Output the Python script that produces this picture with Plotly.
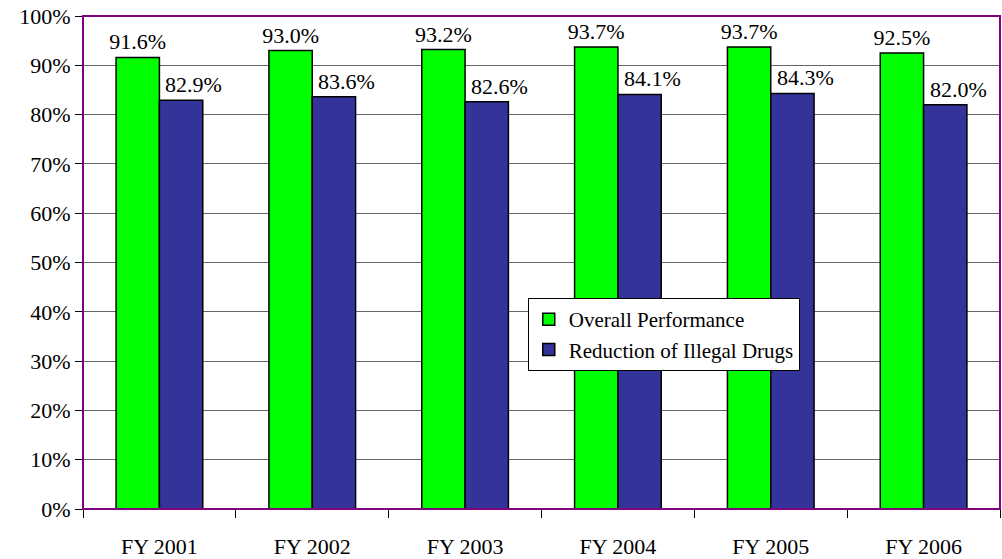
import plotly.graph_objects as go

categories = ["FY 2001", "FY 2002", "FY 2003", "FY 2004", "FY 2005", "FY 2006"]
overall = [91.6, 93.0, 93.2, 93.7, 93.7, 92.5]
reduction = [82.9, 83.6, 82.6, 84.1, 84.3, 82.0]
y_ticks = [0, 10, 20, 30, 40, 50, 60, 70, 80, 90, 100]

FONT = "Liberation Serif, Times New Roman, serif"

fig = go.Figure()
fig.add_trace(go.Bar(
    x=categories, y=overall, name="Overall Performance",
    marker=dict(color="#00FF00", line=dict(color="black", width=1.5)),
    text=[f"{v:.1f}%" for v in overall], textposition="outside",
    constraintext="none",
    textfont=dict(size=22, color="black", family=FONT), cliponaxis=False,
))
fig.add_trace(go.Bar(
    x=categories, y=reduction, name="Reduction of Illegal Drugs",
    marker=dict(color="#333399", line=dict(color="black", width=1.5)),
))
# blue value labels sit left-aligned over the blue bars, as in the reference
for c, v in zip(categories, reduction):
    fig.add_annotation(x=c, y=v, text=f"{v:.1f}%", showarrow=False,
                       xanchor="left", yanchor="bottom", xshift=4, yshift=1,
                       font=dict(size=22, color="black", family=FONT))

fig.update_layout(
    width=1002, height=559,
    margin=dict(l=83, r=2, t=16, b=50, autoexpand=False),
    paper_bgcolor="white", plot_bgcolor="white",
    font=dict(family=FONT, size=22, color="black"),
    barmode="group", bargap=0.433, bargroupgap=0,
    showlegend=True,
    legend=dict(x=0.485, y=0.428, xanchor="left", yanchor="top",
                bgcolor="white", bordercolor="black", borderwidth=1,
                font=dict(size=21, family=FONT), tracegroupgap=0,
                itemwidth=30),
    shapes=[dict(type="rect", xref="paper", yref="paper", x0=0, x1=1, y0=0, y1=1,
                 line=dict(color="#800080", width=2), layer="above")],
)
fig.update_xaxes(
    showline=True, linecolor="black", linewidth=1, automargin=False,
    ticks="outside", tickson="boundaries", ticklen=8, tickcolor="black",
    ticklabelstandoff=18, showgrid=False,
)
fig.update_yaxes(
    range=[0, 100], tickvals=y_ticks, ticktext=[f"{v}%" for v in y_ticks],
    showgrid=True, gridcolor="#666666", gridwidth=1, automargin=False,
    ticks="outside", ticklen=7, tickcolor="black",
    showline=False, zeroline=False,
)

fig.write_html("out.html", config={"displayModeBar": False},
               post_script="document.body.style.margin='0';document.body.style.overflow='hidden';")
